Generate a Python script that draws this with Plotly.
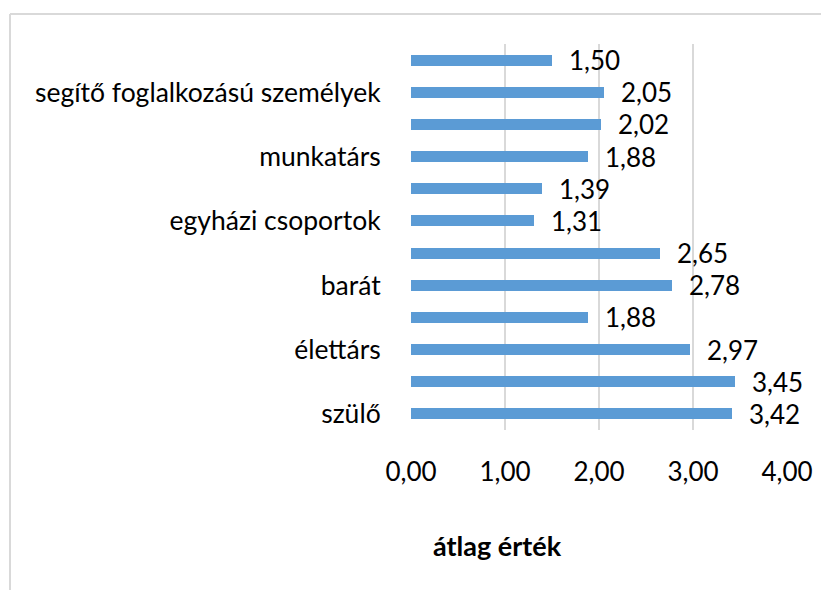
import plotly.graph_objects as go

# Data (bottom to top, as drawn)
category_labels = ["szülő", "", "élettárs", "", "barát", "",
                   "egyházi csoportok", "", "munkatárs", "",
                   "segítő foglalkozású személyek", ""]
values = [3.42, 3.45, 2.97, 1.88, 2.78, 2.65, 1.31, 1.39, 1.88, 2.02, 2.05, 1.50]
x_ticks = [0, 1, 2, 3, 4]
x_tick_labels = ["0,00", "1,00", "2,00", "3,00", "4,00"]
axis_title = "átlag érték"

positions = list(range(len(values)))
FONT = "Lato"
BAR = "#5B9BD5"

# page body has an 8px default margin; figure is sized to fit the window
L, R, T, B = 403, 42, 36, 160
W, H = 821, 582
PW = W - L - R
PH = H - T - B

fig = go.Figure()
fig.add_trace(go.Bar(
    x=values, y=positions, orientation="h",
    marker=dict(color=BAR, line=dict(width=0)),
    width=0.34, hoverinfo="skip",
))

for v, p in zip(values, positions):
    fig.add_annotation(
        x=v, y=p, xref="x", yref="y",
        text=f"{v:.2f}".replace(".", ","),
        showarrow=False, xanchor="left", yanchor="middle",
        xshift=15, yshift=0,
        font=dict(family=FONT, size=26, color="#000000"),
    )

fig.add_annotation(
    x=0.229, y=-0.30, xref="paper", yref="paper",
    text=f"<b>{axis_title}</b>", showarrow=False,
    xanchor="center", yanchor="middle",
    font=dict(family=FONT, size=27, color="#000000"),
)

# Chart-area border (top and left edges visible)
bx = (2 - L) / PW
by = (T + PH - 6) / PH
fig.add_shape(type="line", xref="paper", yref="paper",
              x0=bx, x1=(W + 20 - L) / PW, y0=by, y1=by,
              line=dict(color="#D9D9D9", width=2))
fig.add_shape(type="line", xref="paper", yref="paper",
              x0=bx, x1=bx, y0=by, y1=-(B + 20) / PH,
              line=dict(color="#D9D9D9", width=2))

fig.update_xaxes(
    range=[0, 4], tickvals=x_ticks, ticktext=x_tick_labels,
    showgrid=True, gridcolor="#D9D9D9", gridwidth=1.5,
    zeroline=False, showline=False,
    ticks="outside", ticklen=19, tickcolor="rgba(0,0,0,0)",
    tickfont=dict(family=FONT, size=26, color="#000000"),
    fixedrange=True,
)
fig.update_yaxes(
    range=[-0.5, 11.5], tickvals=positions, ticktext=category_labels,
    showgrid=False, zeroline=False, showline=False,
    ticks="outside", ticklen=24, tickcolor="rgba(0,0,0,0)",
    tickfont=dict(family=FONT, size=26.5, color="#000000"),
    fixedrange=True,
)

fig.update_layout(
    width=W, height=H,
    margin=dict(l=L, r=R, t=T, b=B, autoexpand=False),
    paper_bgcolor="white", plot_bgcolor="white",
    showlegend=False, bargap=0,
)

fig.write_html("out.html")
